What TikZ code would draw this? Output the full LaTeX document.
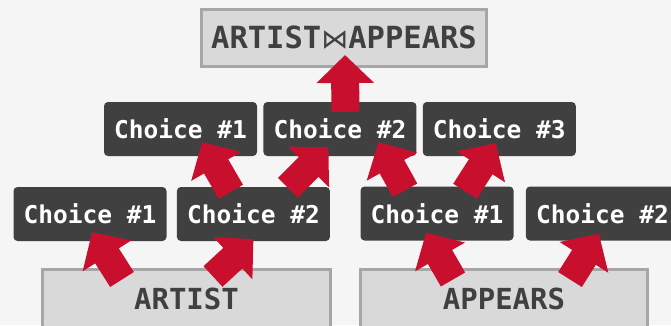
\documentclass[tikz,border=0pt]{standalone}
\usepackage{fontspec}
\setmonofont{DejaVu Sans Mono}
\newfontfamily\symfont{DejaVu Sans}
\usepackage{tikz}
\usetikzlibrary{arrows.meta, calc, positioning}

\definecolor{bgcol}{HTML}{F5F5F5}
\definecolor{boxgray}{HTML}{D9D9D9}
\definecolor{edgegray}{HTML}{A6A6A6}
\definecolor{darkcol}{HTML}{404040}
\definecolor{arrowred}{HTML}{C8102E}

\begin{document}
\begin{tikzpicture}[x=1pt, y=-1pt,
    tablebox/.style={draw=edgegray, line width=3pt, fill=boxgray, text=darkcol, inner sep=0pt, font=\ttfamily\bfseries\fontsize{29}{34}\selectfont},
    choicebox/.style={fill=darkcol, rounded corners=4pt, text=white, inner sep=0pt, minimum width=153pt, minimum height=54pt, font=\ttfamily\bfseries\fontsize{24.5}{28}\selectfont},
    redarrow/.style={draw=arrowred, line width=28pt, -{Triangle[width=56pt, length=28pt]}}]
    \fill[bgcol] (0,0) rectangle (671,325);
    \useasboundingbox (0,0) rectangle (671,325);
    \clip (0,0) rectangle (671,325);

    % Join result
    \node[tablebox, minimum width=285pt, minimum height=57pt, font=\ttfamily\bfseries\fontsize{30.5}{36}\selectfont] (join) at (344,38) {ARTIST{\symfont\mdseries\fontsize{27}{30}\selectfont ⋈}APPEARS};

    % Base tables
    \node[tablebox, minimum width=288pt, minimum height=60pt] (artist) at (186.5,299) {ARTIST};
    \node[tablebox, minimum width=287pt, minimum height=60pt] (appears) at (504,299) {APPEARS};

    % Second level
    \node[choicebox] (m1) at (180.5,129) {Choice \#1};
    \node[choicebox, right=6pt of m1] (m2) {Choice \#2};
    \node[choicebox, right=6pt of m2] (m3) {Choice \#3};

    % First level
    \node[choicebox] (l1) at (90,214) {Choice \#1};
    \node[choicebox, right=10pt of l1] (l2) {Choice \#2};
    \node[choicebox] (r1) at (437,213.5) {Choice \#1};
    \node[choicebox, right=12pt of r1] (r2) {Choice \#2};

    % Arrows
    \draw[redarrow] ($(artist.north)+(-64.5,12)$) -- ($(l1.south)+(2,-9)$);
    \draw[redarrow] ($(artist.north)+(26.5,9)$) -- ($(l2.south)+(0,-2)$);
    \draw[redarrow] ($(appears.north)+(-51,12)$) -- ($(r1.south)+(-11,-8)$);
    \draw[redarrow] ($(appears.north)+(66,12)$) -- ($(r2.south)+(-3.5,-7)$);

    \draw[redarrow] ($(l2.north)+(-22.5,5)$) -- ($(m1.south)+(21.5,-14)$);
    \draw[redarrow] ($(l2.north)+(34.5,1)$) -- ($(m2.south)+(-11.5,-9)$);
    \draw[redarrow] ($(r1.north)+(-32,4)$) -- ($(m2.south)+(38.5,-14)$);
    \draw[redarrow] ($(r1.north)+(28,5)$) -- ($(m3.south)+(-3.5,-13)$);

    \draw[redarrow] ($(m2.north)+(5.5,10)$) -- ($(join.south)+(1,-13)$);
\end{tikzpicture}
\end{document}
